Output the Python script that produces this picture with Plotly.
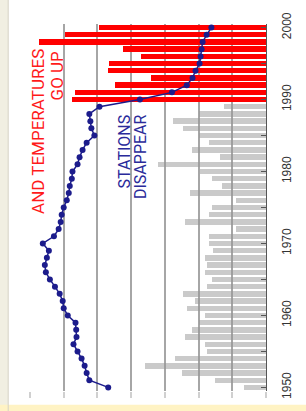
import plotly.graph_objects as go

# --- data (grid units; right edge = 0) ---
gray_years = list(range(1950, 1990))
gray_values = [0.65, 1.5, 2.5, 3.6, 2.7, 1.75, 1.8, 2.4, 2.2, 2.0,
               1.8, 2.35, 2.1, 2.45, 1.75, 1.6, 1.8, 1.76, 1.8, 1.56,
               1.7, 1.7, 0.9, 2.4, 1.7, 1.6, 0.9, 2.25, 1.3, 1.6,
               1.95, 3.2, 1.35, 2.2, 1.7, 2.0, 2.45, 2.75, 2.0, 1.25]
red_years = list(range(1990, 2001))
red_values = [5.76, 5.68, 4.47, 3.41, 4.68, 4.65, 3.7, 4.24, 6.74, 5.97, 4.94]

line_years = list(range(1950, 2001))
line_values = [4.68, 5.24, 5.32, 5.38, 5.47, 5.59, 5.71, 5.62, 5.63, 5.65,
               5.88, 6.0, 6.03, 6.12, 6.26, 6.41, 6.53, 6.56, 6.5, 6.44,
               6.62, 6.29, 6.15, 6.09, 6.06, 6.0, 5.91, 5.85, 5.82, 5.76,
               5.74, 5.59, 5.53, 5.44, 5.32, 5.09, 5.18, 5.21, 5.24, 4.94,
               3.74, 2.79, 2.35, 2.18, 2.09, 1.97, 1.94, 1.91, 1.88, 1.76, 1.62]

year_ticks = list(range(1950, 2001, 5))
year_labels = [str(y) if y % 10 == 0 else "" for y in year_ticks]
grid_ticks = list(range(0, 8))

fig = go.Figure()
fig.add_trace(go.Bar(x=gray_values, y=gray_years, orientation="h", width=0.75,
                     marker=dict(color="rgba(150,150,150,0.5)", line=dict(width=0)),
                     showlegend=False))
fig.add_trace(go.Bar(x=red_values, y=red_years, orientation="h", width=0.75,
                     marker=dict(color="#ff0000", line=dict(width=0)),
                     showlegend=False))
fig.add_trace(go.Scatter(x=line_values, y=line_years, mode="lines+markers",
                         line=dict(color="#1c1c8c", width=1.5),
                         marker=dict(color="#1c1c8c", size=6),
                         showlegend=False))

fig.update_layout(
    width=306, height=411,
    margin=dict(l=30, r=38, t=19, b=17),
    paper_bgcolor="white", plot_bgcolor="white",
    barmode="overlay", bargap=0,
    xaxis=dict(range=[7, 0], tickvals=grid_ticks, showticklabels=False,
               showgrid=True, gridcolor="#a6a6a6", gridwidth=1.5,
               zeroline=False, showline=False,
               ticks="outside", ticklen=6, tickcolor="#d0d0d0", tickwidth=1.5),
    yaxis=dict(range=[1949.5, 2000.5], side="right", tickvals=year_ticks,
               ticktext=year_labels, tickangle=-90, showgrid=False,
               zeroline=False, showline=True, linecolor="#555", linewidth=1,
               ticks="inside", ticklen=5, tickcolor="#555",
               ticklabelstandoff=10,
               tickfont=dict(family="Liberation Sans, Arial", size=12, color="#333")),
    font=dict(family="Liberation Sans, Arial"),
)

red_font = dict(family="Roboto, Liberation Sans", size=17, color="#ff1a1a")
blue_font = dict(family="Roboto, Liberation Sans", size=16, color="#2a2a9a")
fig.add_annotation(x=6.78, y=1997.3, text="AND TEMPERATURES", textangle=-90, showarrow=False,
                   xanchor="center", yanchor="top", font=red_font)
fig.add_annotation(x=6.2, y=1997.1, text="GO UP", textangle=-90, showarrow=False,
                   xanchor="center", yanchor="top", font=red_font)
fig.add_annotation(x=4.21, y=1982.8, text="STATIONS", textangle=-90, showarrow=False,
                   xanchor="center", yanchor="middle", font=blue_font)
fig.add_annotation(x=3.72, y=1982.1, text="DISAPPEAR", textangle=-90, showarrow=False,
                   xanchor="center", yanchor="middle", font=blue_font)

# page frame pieces (left strip and bottom strip)
fig.add_shape(type="rect", xref="paper", yref="paper", x0=-0.2, x1=-0.0924, y0=-0.1, y1=1.1,
              fillcolor="#f1efe2", line=dict(width=0), layer="below")
fig.add_shape(type="line", xref="paper", yref="paper", x0=-0.0924, x1=-0.0924, y0=-0.1, y1=1.1,
              line=dict(color="#d6d3c4", width=1))
fig.add_shape(type="rect", xref="paper", yref="paper", x0=-0.2, x1=1.3, y0=-0.0373, y1=-0.1,
              fillcolor="#fff3c4", line=dict(width=0), layer="below")

fig.write_html("out.html", config={"displayModeBar": False},
               post_script="document.body.style.margin='0';document.body.style.overflow='hidden';")
